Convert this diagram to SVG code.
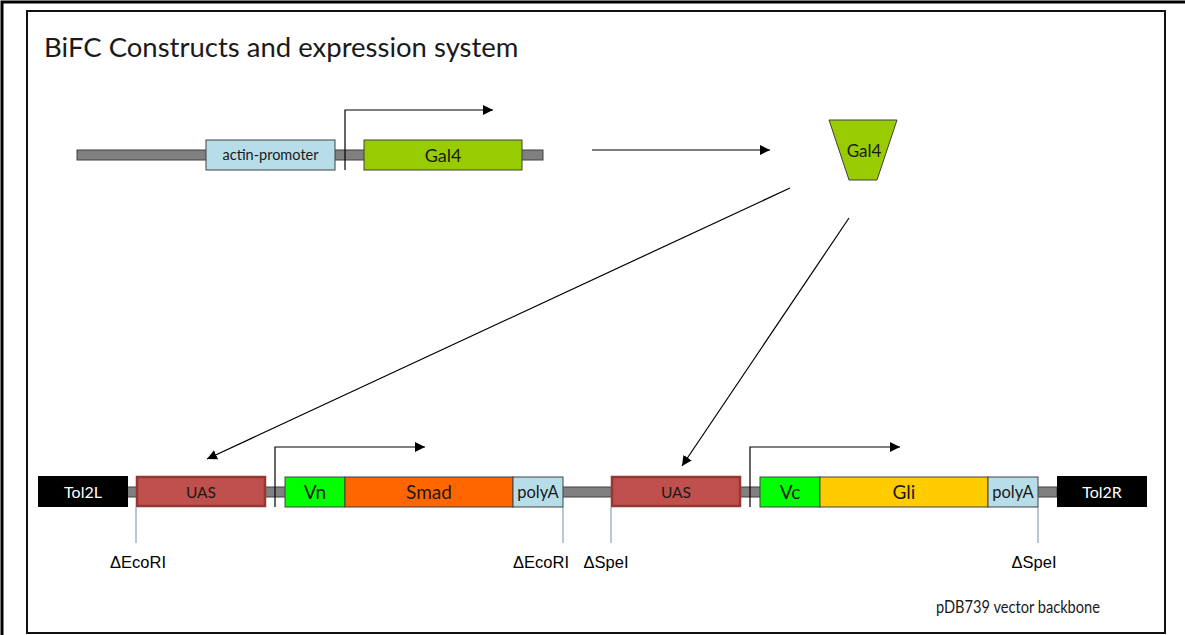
<svg xmlns="http://www.w3.org/2000/svg" width="1185" height="635" viewBox="0 0 1185 635">
<defs>
<marker id="ah" viewBox="0 0 10 10" refX="10" refY="5" markerWidth="10" markerHeight="10" markerUnits="userSpaceOnUse" orient="auto">
<path d="M0,0 L10,5 L0,10 z" fill="#000"/>
</marker>
<style>
.bb{fill:#808080;stroke:#404040;stroke-width:1}
.box{stroke:#404040;stroke-width:1}
.c{font-family:"Lato","Open Sans",sans-serif;text-anchor:middle;fill:#1a1a1a}
.w{fill:#fff}
.r{font-family:"Liberation Sans",Arial,sans-serif;font-size:16.5px;text-anchor:middle;fill:#000}
.site{stroke:#6F8FAF;stroke-width:1}
.ln{stroke:#000;stroke-width:1.2;fill:none}
</style>
</defs>
<rect x="0" y="0" width="1185" height="635" fill="#fff"/>
<path d="M2,635 L2,2 L1185,2" fill="none" stroke="#000" stroke-width="3"/>
<rect x="27" y="11" width="1138" height="622" fill="#fff" stroke="#111" stroke-width="2"/>
<text x="44" y="57" font-family="Lato,'Open Sans',sans-serif" font-size="27.5" fill="#1a1a1a">BiFC Constructs and expression system</text>

<g id="top-construct">
<rect class="bb" x="77" y="150" width="466" height="10"/>
<g id="actin-promoter"><rect class="box" x="206" y="140" width="129" height="30" fill="#B7DEE8"/><text class="c" x="270.5" y="160" font-size="14.5">actin-promoter</text></g>
<g id="gal4-gene"><rect class="box" x="364" y="140" width="158" height="30" fill="#99CC00"/><text class="c" x="443" y="162" font-size="18">Gal4</text></g>
</g>

<g id="gal4-protein">
<path d="M829,120 L897,120 L877,180 L849,180 z" fill="#99CC00" stroke="#404040" stroke-width="1"/>
<text class="c" x="864" y="157" font-size="17">Gal4</text>
</g>

<g id="bottom-construct">
<rect class="bb" x="127" y="487" width="930" height="10"/>
<g id="tol2l"><rect x="38" y="476" width="90" height="31" fill="#000"/><text class="c w" x="83" y="498" font-size="16">Tol2L</text></g>
<g id="uas1"><rect x="137" y="477" width="128" height="29" fill="#C0504D" stroke="#953735" stroke-width="2.5"/><text class="c" x="201" y="498" font-size="15.5">UAS</text></g>
<g id="vn"><rect class="box" x="285" y="477" width="60" height="30" fill="#00FF00"/><text class="c" x="315" y="499" font-size="19">Vn</text></g>
<g id="smad"><rect class="box" x="345" y="477" width="168" height="30" fill="#FF6600"/><text class="c" x="429" y="499" font-size="19">Smad</text></g>
<g id="polya1"><rect class="box" x="513" y="477" width="50" height="30" fill="#B7DEE8"/><text class="c" x="538" y="498" font-size="16.5">polyA</text></g>
<g id="uas2"><rect x="612" y="477" width="128" height="29" fill="#C0504D" stroke="#953735" stroke-width="2.5"/><text class="c" x="676" y="498" font-size="15.5">UAS</text></g>
<g id="vc"><rect class="box" x="760" y="477" width="60" height="30" fill="#00FF00"/><text class="c" x="790" y="499" font-size="19">Vc</text></g>
<g id="gli"><rect class="box" x="820" y="477" width="168" height="30" fill="#FFCC00"/><text class="c" x="904" y="499" font-size="19">Gli</text></g>
<g id="polya2"><rect class="box" x="988" y="477" width="50" height="30" fill="#B7DEE8"/><text class="c" x="1013" y="498" font-size="16.5">polyA</text></g>
<g id="tol2r"><rect x="1057" y="476" width="90" height="31" fill="#000"/><text class="c w" x="1102" y="498" font-size="16">Tol2R</text></g>
</g>

<g id="sites">
<line class="site" x1="136" y1="507" x2="136" y2="543"/>
<line class="site" x1="563" y1="507" x2="563" y2="543"/>
<line class="site" x1="611" y1="507" x2="611" y2="543"/>
<line class="site" x1="1038" y1="507" x2="1038" y2="543"/>
<text class="r" x="138" y="568">ΔEcoRI</text>
<text class="r" x="541" y="568">ΔEcoRI</text>
<text class="r" x="606" y="568">ΔSpeI</text>
<text class="r" x="1034" y="568">ΔSpeI</text>
</g>

<g id="connectors">
<path class="ln" d="M345,170 L345,110 L493,110" marker-end="url(#ah)"/>
<line class="ln" x1="592" y1="150" x2="770" y2="150" marker-end="url(#ah)"/>
<line class="ln" x1="790" y1="188" x2="207" y2="459" marker-end="url(#ah)"/>
<line class="ln" x1="849" y1="218" x2="682" y2="466" marker-end="url(#ah)"/>
<path class="ln" d="M275,507 L275,447 L425,447" marker-end="url(#ah)"/>
<path class="ln" d="M750,507 L750,447 L900,447" marker-end="url(#ah)"/>
</g>

<text x="936" y="613" font-family="Lato,'Open Sans',sans-serif" font-size="16.5" textLength="164" lengthAdjust="spacingAndGlyphs" fill="#1a1a1a">pDB739 vector backbone</text>
</svg>
